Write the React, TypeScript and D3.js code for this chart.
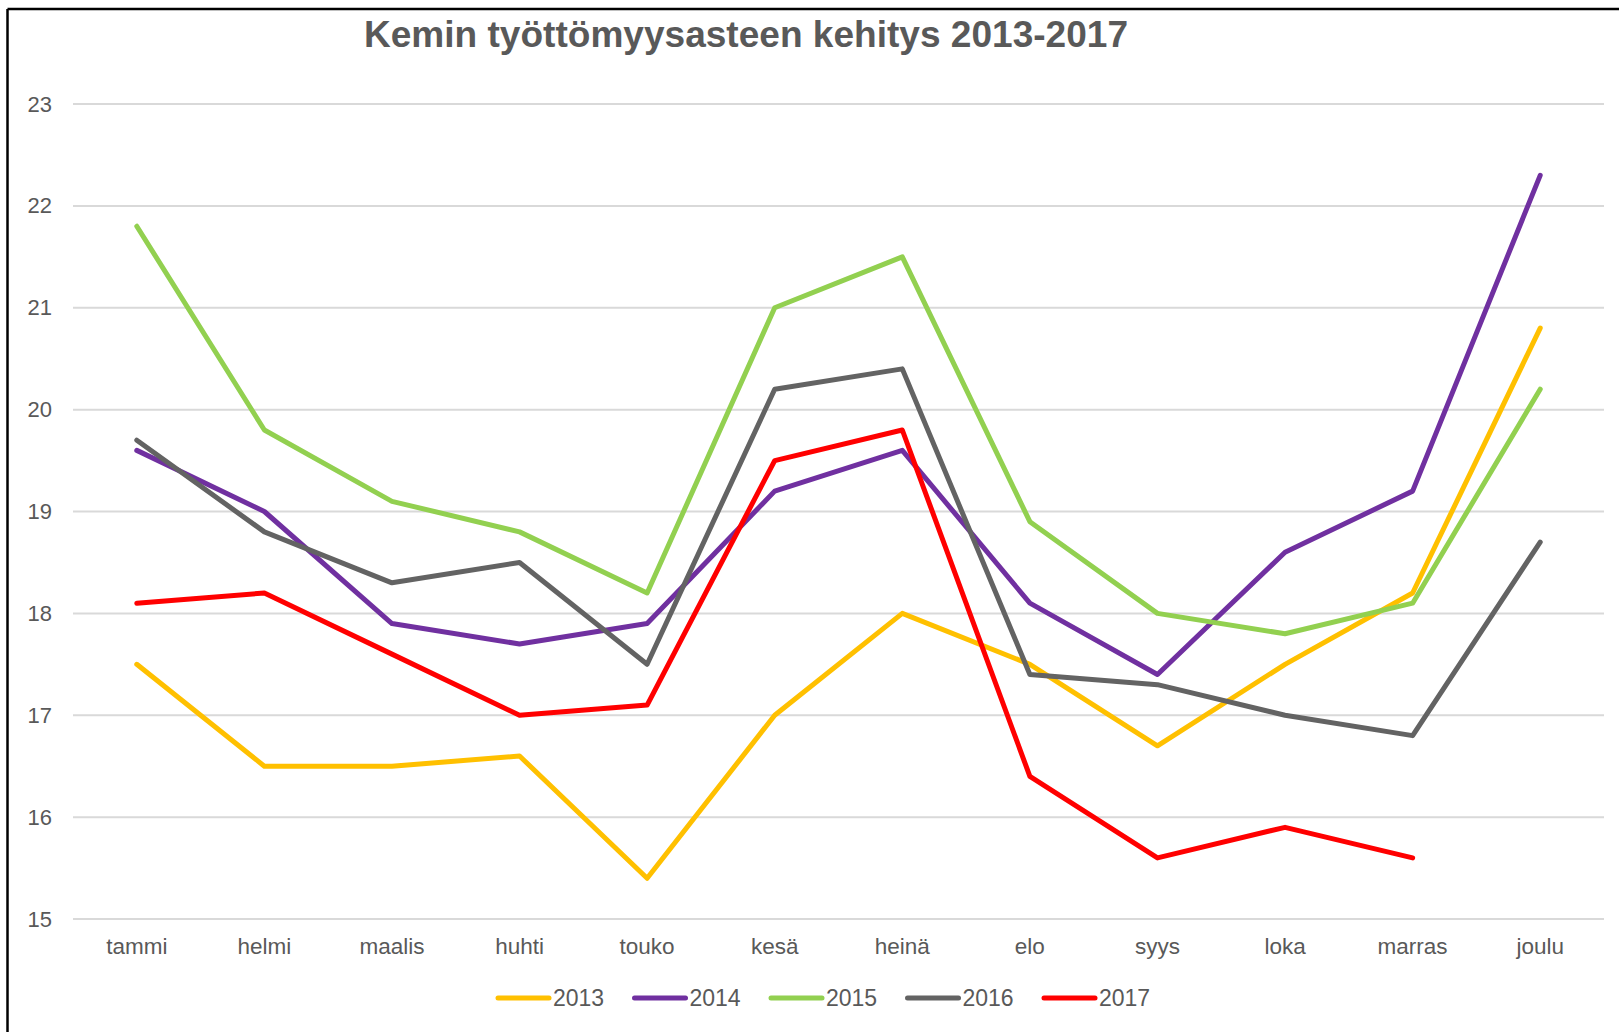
import React from "react";
import * as d3 from "d3";

const months = ["tammi", "helmi", "maalis", "huhti", "touko", "kesä", "heinä", "elo", "syys", "loka", "marras", "joulu"];
const yTicks = [15, 16, 17, 18, 19, 20, 21, 22, 23];

const s2013 = [17.5, 16.5, 16.5, 16.6, 15.4, 17.0, 18.0, 17.5, 16.7, 17.5, 18.2, 20.8];
const s2014 = [19.6, 19.0, 17.9, 17.7, 17.9, 19.2, 19.6, 18.1, 17.4, 18.6, 19.2, 22.3];
const s2015 = [21.8, 19.8, 19.1, 18.8, 18.2, 21.0, 21.5, 18.9, 18.0, 17.8, 18.1, 20.2];
const s2016 = [19.7, 18.8, 18.3, 18.5, 17.5, 20.2, 20.4, 17.4, 17.3, 17.0, 16.8, 18.7];
const s2017: (number | null)[] = [18.1, 18.2, 17.6, 17.0, 17.1, 19.5, 19.8, 16.4, 15.6, 15.9, 15.6, null];

const seriesNames = ["2013", "2014", "2015", "2016", "2017"];
const seriesColors = ["#FFC000", "#7030A0", "#92D050", "#636363", "#FF0000"];
const seriesData = [s2013, s2014, s2015, s2016, s2017];

const title = "Kemin työttömyysasteen kehitys 2013-2017";

export default function App() {
  const W = 1619;
  const H = 1032;
  const x = d3.scaleBand<string>().domain(months).range([73, 1604]);
  const y = d3.scaleLinear().domain([15, 23]).range([919, 104]);
  const cx = (m: string) => (x(m) as number) + x.bandwidth() / 2;
  const line = d3
    .line<number | null>()
    .defined((d) => d !== null)
    .x((_, i) => cx(months[i]))
    .y((d) => y(d as number));

  const font = "'Liberation Sans', Arial, sans-serif";
  const textColor = "#595959";
  const legendStart = 496;
  const legendStep = 136.5;

  return (
    <svg
      width={W}
      height={H}
      style={{ position: "fixed", left: 0, top: 0, background: "#fff" }}
      fontFamily={font}
    >
      <rect x={0} y={0} width={W} height={H} fill="#fff" />
      <line x1={7.5} y1={9} x2={W} y2={9} stroke="#000" strokeWidth={2.5} />
      <line x1={7.5} y1={9} x2={7.5} y2={H} stroke="#000" strokeWidth={2.5} />

      <text
        x={746}
        y={47}
        textAnchor="middle"
        fontSize={37}
        fontWeight="bold"
        fill={textColor}
        textLength={764}
        lengthAdjust="spacingAndGlyphs"
      >
        {title}
      </text>

      {yTicks.map((t) => (
        <g key={t}>
          <line x1={73} x2={1604} y1={y(t)} y2={y(t)} stroke="#D9D9D9" strokeWidth={2} />
          <text x={52} y={y(t) + 7.5} textAnchor="end" fontSize={22} fill={textColor}>
            {t}
          </text>
        </g>
      ))}

      {months.map((m) => (
        <text key={m} x={cx(m)} y={954} textAnchor="middle" fontSize={22.5} fill={textColor}>
          {m}
        </text>
      ))}

      {seriesData.map((s, i) => (
        <path
          key={seriesNames[i]}
          d={line(s) || ""}
          fill="none"
          stroke={seriesColors[i]}
          strokeWidth={5}
          strokeLinejoin="round"
          strokeLinecap="round"
        />
      ))}

      {seriesNames.map((n, i) => {
        const lx = legendStart + i * legendStep;
        return (
          <g key={n}>
            <line
              x1={lx + 2}
              x2={lx + 53}
              y1={998}
              y2={998}
              stroke={seriesColors[i]}
              strokeWidth={5}
              strokeLinecap="round"
            />
            <text x={lx + 57} y={1006} fontSize={23} fill={textColor}>
              {n}
            </text>
          </g>
        );
      })}
    </svg>
  );
}
